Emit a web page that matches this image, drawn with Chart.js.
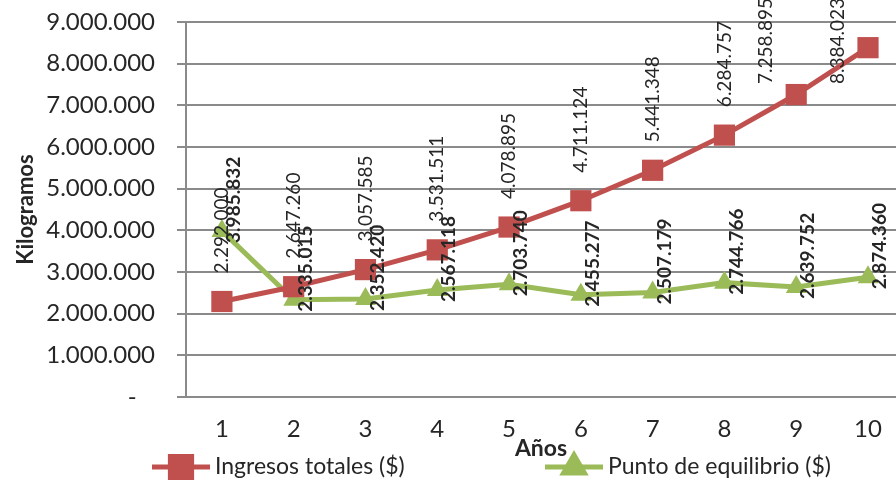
<!DOCTYPE html>
<html>
<head>
<meta charset="utf-8">
<script src="https://cdn.jsdelivr.net/npm/chart.js@4"></script>
<style>
html, body { margin: 0; padding: 0; background: #fff; overflow: hidden; }
#wrap { width: 896px; height: 481px; }
</style>
</head>
<body>
<div id="wrap"><canvas id="chart1"></canvas></div>
<script>
const years = [1, 2, 3, 4, 5, 6, 7, 8, 9, 10];
const ingresosTotales = [2292000, 2647260, 3057585, 3531511, 4078895, 4711124, 5441348, 6284757, 7258895, 8384023];
const puntoEquilibrio = [3985832, 2335015, 2352420, 2567118, 2703740, 2455277, 2507179, 2744766, 2639752, 2874360];
const yMax = 9000000;
const yStep = 1000000;

const RED = '#C0504D';
const GREEN = '#9BBB59';
const GRID = '#8a8a8a';
const TEXT = '#262626';

function miles(n) {
  return String(Math.round(n)).replace(/\B(?=(\d{3})+(?!\d))/g, '.');
}

Chart.defaults.font.family = 'Lato';

// vertical data labels like the excel chart
const rotatedLabels = {
  id: 'rotatedLabels',
  afterDatasetsDraw(chart) {
    const ctx = chart.ctx;
    chart.data.datasets.forEach((ds, i) => {
      const meta = chart.getDatasetMeta(i);
      ctx.save();
      ctx.font = ds.labelFont;
      ctx.fillStyle = TEXT;
      ctx.textBaseline = 'middle';
      ctx.textAlign = 'left';
      meta.data.forEach((pt, j) => {
        const txt = miles(ds.data[j].y);
        const w = ctx.measureText(txt).width;
        let x = pt.x + ds.labelDx;
        let start = pt.y + ds.labelDy;
        if (start - w < 0) {
          start = w - 2;
          x -= 30;
        }
        ctx.save();
        ctx.translate(x, start);
        ctx.rotate(-Math.PI / 2);
        ctx.fillText(txt, 0, 0);
        ctx.restore();
      });
      ctx.restore();
    });
  }
};

// legend with line + marker, drawn under the axis title
const lineLegend = {
  id: 'lineLegend',
  afterDraw(chart) {
    const ctx = chart.ctx;
    const y = 467;
    const starts = [152, 545];
    chart.data.datasets.forEach((ds, i) => {
      const x0 = starts[i];
      ctx.save();
      ctx.strokeStyle = ds.borderColor;
      ctx.lineWidth = 5;
      ctx.beginPath();
      ctx.moveTo(x0, y);
      ctx.lineTo(x0 + 58, y);
      ctx.stroke();
      Chart.helpers.drawPoint(ctx, {
        pointStyle: ds.pointStyle,
        radius: ds.pointRadius,
        borderWidth: 1
      }, x0 + 29, y);
      ctx.fillStyle = ds.backgroundColor;
      ctx.fill();
      ctx.fillStyle = TEXT;
      ctx.font = '23px Lato';
      ctx.textBaseline = 'middle';
      ctx.textAlign = 'left';
      ctx.fillText(ds.label, x0 + 63, y);
      ctx.restore();
    });
  }
};

new Chart(document.getElementById('chart1'), {
  type: 'line',
  data: {
    datasets: [{
      label: 'Ingresos totales ($)',
      data: years.map((x, i) => ({ x: x, y: ingresosTotales[i] })),
      borderColor: RED,
      backgroundColor: RED,
      borderWidth: 5,
      pointStyle: 'rect',
      pointRadius: 15,
      pointBorderWidth: 0,
      labelFont: '19px Lato',
      labelDx: 0,
      labelDy: -28,
      fill: false
    }, {
      label: 'Punto de equilibrio ($)',
      data: years.map((x, i) => ({ x: x, y: puntoEquilibrio[i] })),
      borderColor: GREEN,
      backgroundColor: GREEN,
      borderWidth: 5,
      pointStyle: 'triangle',
      pointRadius: 12,
      pointBorderWidth: 0,
      labelFont: 'bold 19px Lato',
      labelDx: 12,
      labelDy: 12,
      fill: false
    }]
  },
  plugins: [rotatedLabels, lineLegend],
  options: {
    responsive: true,
    maintainAspectRatio: false,
    animation: false,
    layout: { autoPadding: false, padding: { top: 22, left: 10, right: 0, bottom: 19 } },
    plugins: {
      legend: { display: false },
      tooltip: { enabled: false },
      title: { display: false }
    },
    scales: {
      x: {
        type: 'linear',
        min: 0.5,
        max: 10.39,
        grid: { display: false, drawTicks: false },
        border: { display: false },
        ticks: {
          stepSize: 1,
          includeBounds: false,
          padding: 18,
          color: TEXT,
          font: { size: 24 }
        },
        title: {
          display: true,
          text: 'Años',
          color: TEXT,
          font: { size: 23, weight: 'bold' },
          padding: 0
        },
        afterFit(scale) {
          scale.height = 65;
          scale.paddingLeft = 0;
          scale.paddingRight = 0;
        }
      },
      y: {
        min: 0,
        max: yMax,
        grid: { color: GRID, lineWidth: 2, tickLength: 9 },
        border: { display: true, color: GRID, width: 2 },
        ticks: {
          stepSize: yStep,
          padding: 22,
          color: TEXT,
          font: { size: 24 },
          callback: v => v === 0 ? '-   ' : miles(v)
        },
        title: {
          display: true,
          text: 'Kilogramos',
          color: TEXT,
          font: { size: 22, weight: 'bold' },
          padding: 3
        },
        afterFit(scale) {
          scale.width = 176;
          scale.paddingTop = 0;
          scale.paddingBottom = 0;
        }
      }
    }
  }
});
</script>
</body>
</html>
